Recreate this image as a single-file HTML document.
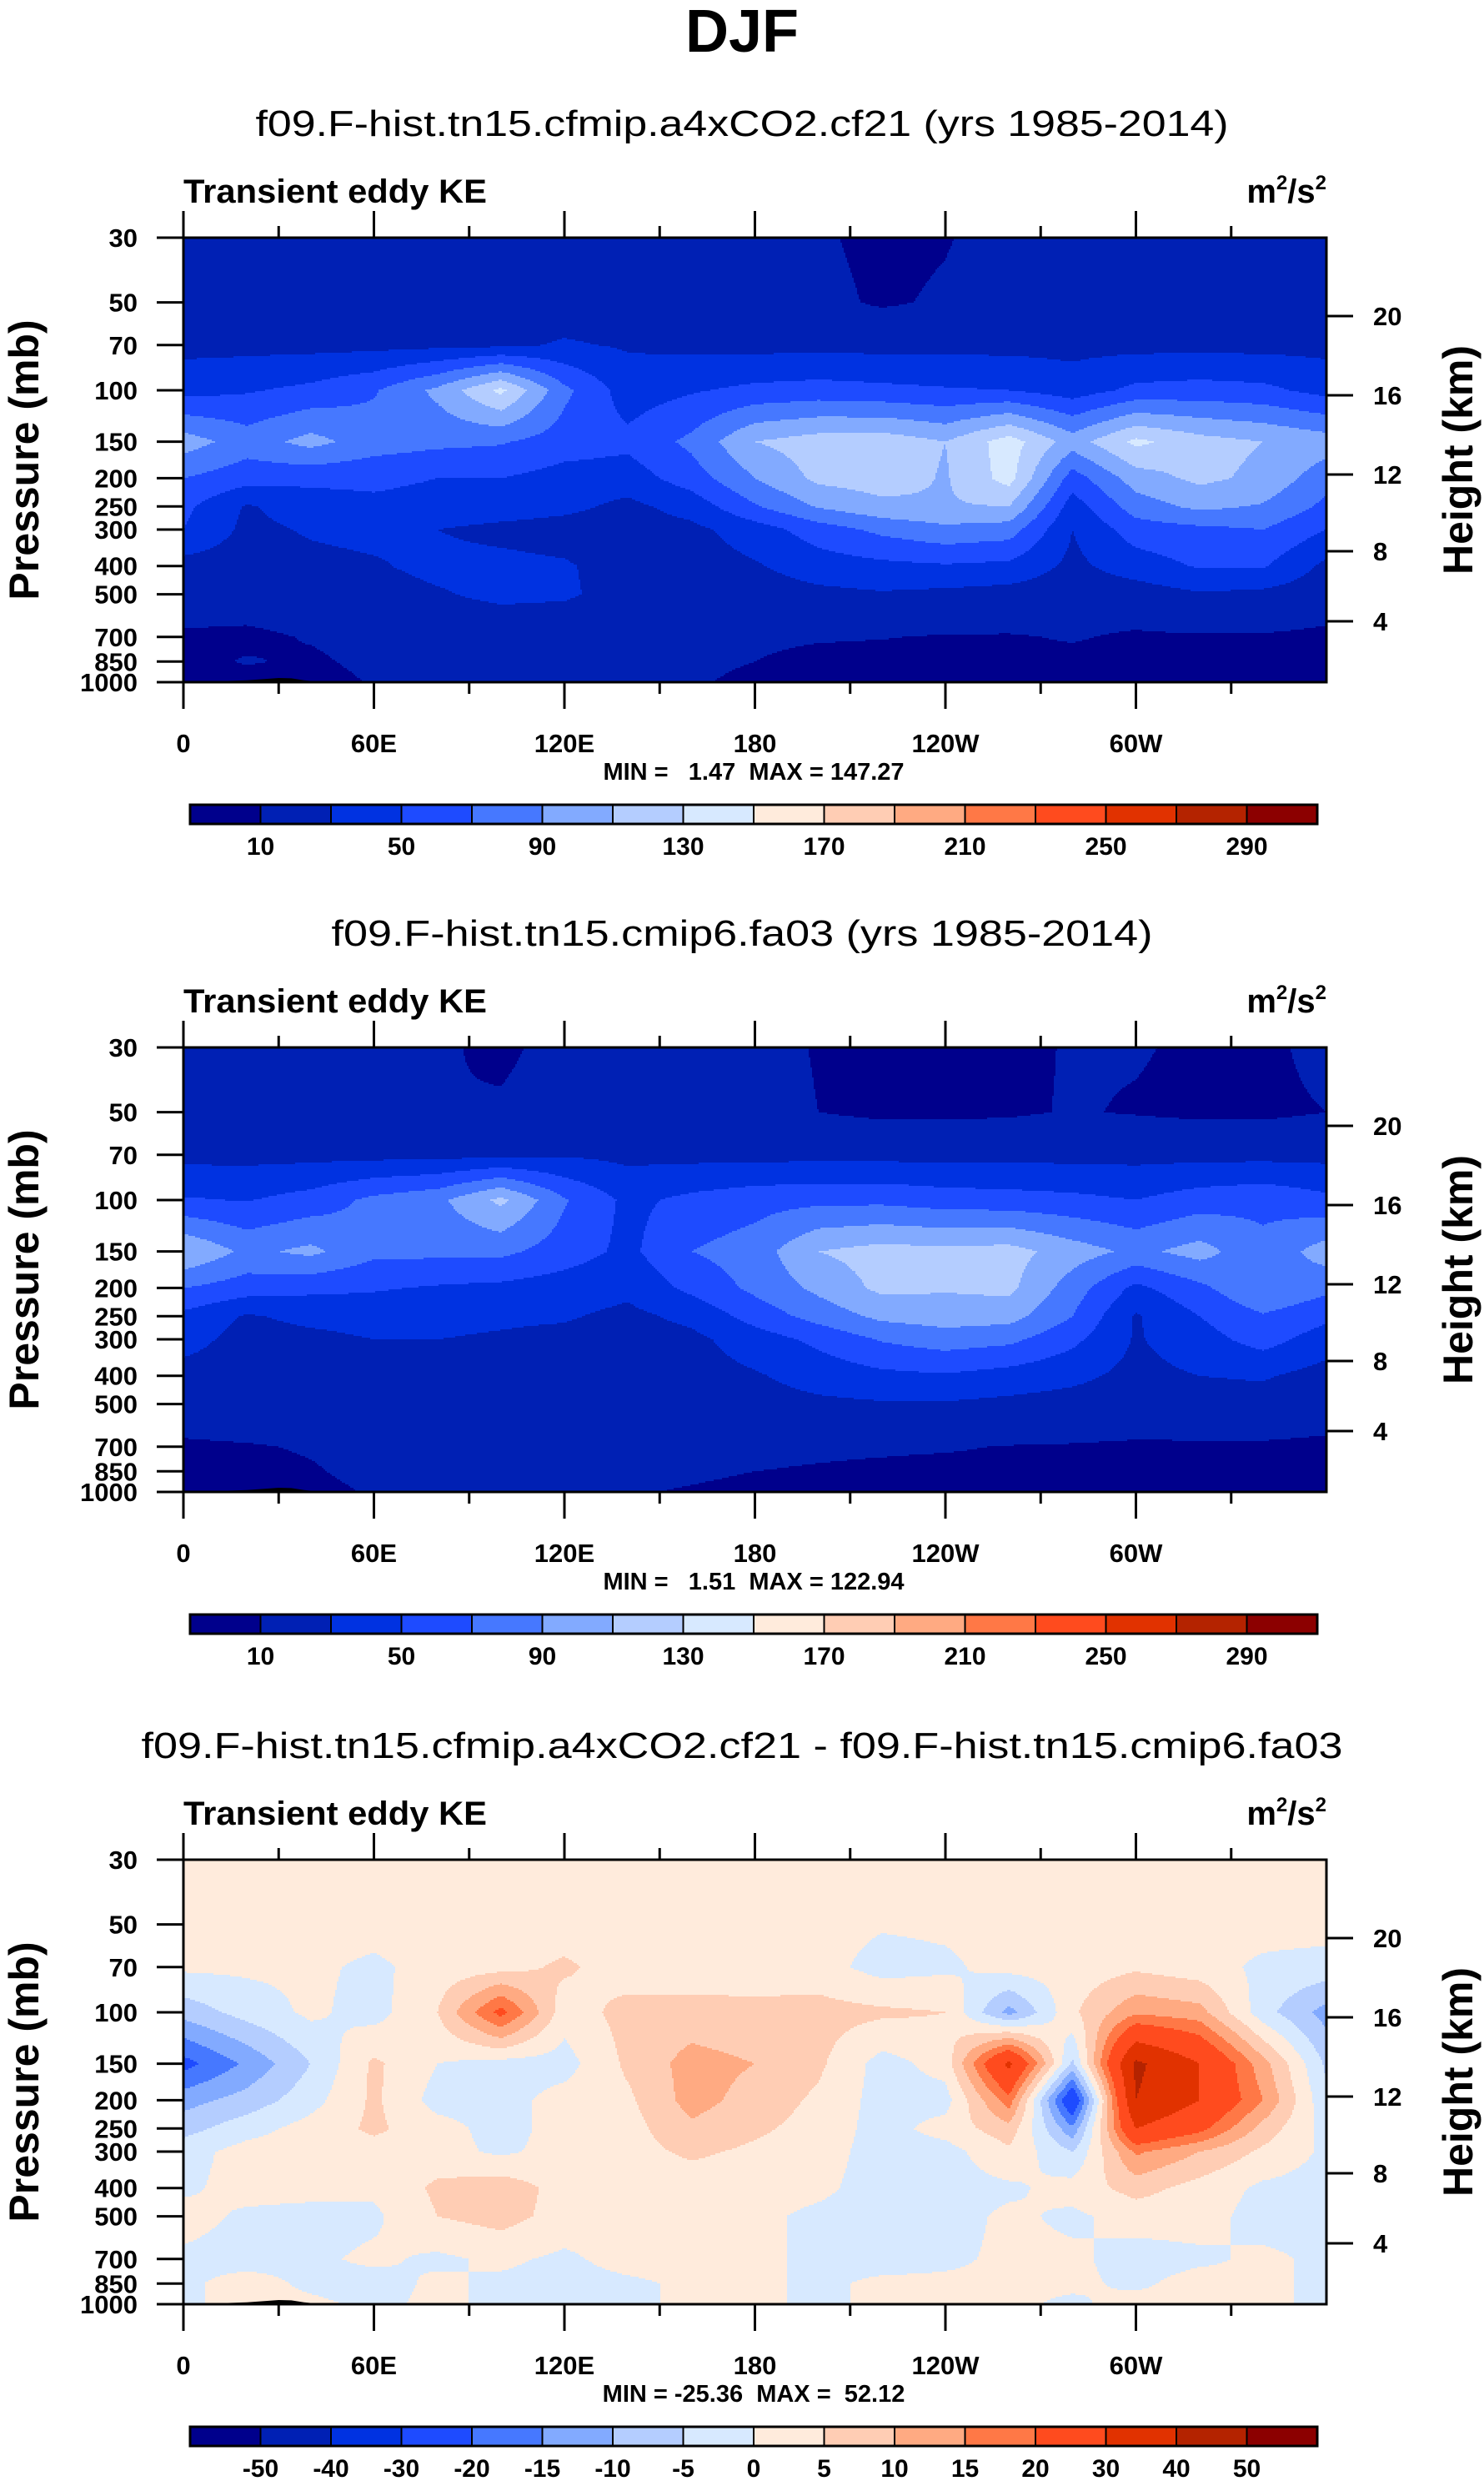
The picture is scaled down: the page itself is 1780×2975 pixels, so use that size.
<!DOCTYPE html>
<html><head><meta charset="utf-8"><title>DJF Transient eddy KE</title>
<style>
html,body{margin:0;padding:0;background:#fff;}
svg{display:block;font-family:"Liberation Sans",Arial,sans-serif;}
</style></head>
<body>
<svg id="fig" width="1780" height="2975" viewBox="0 0 1780 2975" xmlns="http://www.w3.org/2000/svg">
<rect width="1780" height="2975" fill="#fff"/>
<text x="890" y="62" text-anchor="middle" font-size="72" font-weight="bold">DJF</text>
</svg>
<script>
// ---------------- data ----------------
const lons = [0,20,40,60,80,100,120,140,160,180,200,220,240,260,280,300,320,340,360];
const pLevels = [30,50,70,100,150,200,250,300,400,500,700,850,1000];
const ke1 = [
 [18,18,18,18,18,18,18,18,18,16,12,6,9,16,18,18,18,18,18],
 [20,20,20,20,20,20,20,20,20,18,14,8,12,18,20,20,20,20,20],
 [24,24,24,24,25,26,32,28,25,24,24,24,24,24,24,24,24,24,24],
 [43,48,55,68,95,135,75,40,48,55,58,55,52,50,40,55,58,55,43],
 [100,80,97,80,75,72,60,55,75,110,120,122,110,140,100,135,118,110,100],
 [70,58,55,55,50,50,42,40,60,90,115,120,108,138,60,100,115,105,78],
 [55,28,40,45,42,40,35,25,38,68,92,105,108,110,40,80,95,88,65],
 [50,25,32,35,30,25,22,20,25,40,60,75,85,80,30,60,65,70,50],
 [22,20,25,28,35,35,32,22,20,28,40,45,48,45,25,40,52,52,25],
 [18,18,20,22,28,35,33,22,18,20,25,28,25,22,18,20,28,25,18],
 [8,7,11,14,14,14,14,14,14,12,11,10.5,9,9,11,8,8.5,8.5,7],
 [6,11,8,13,13,13,13,13,12,10,7,6,6,6,7,6,6,6,6],
 [5,5,5,11,11,11,11,11,11,8,5,5,5,5,5,5,5,5,5]
];
const ke2 = [
 [17,18,18,17,12,7,15,18,18,15,9,6,6,7,11,11,8,7,14],
 [16,11,17,17,10,12,17,19,19,16,10,7,7,8,11,9,7,7,10],
 [24,24,24,24,24,25,28,25,24,24,24,24,24,24,24,24,24,24,24],
 [52,49,58,75,85,115,72,45,55,62,65,65,60,58,55,50,60,65,55],
 [110,85,95,75,75,75,60,45,70,80,110,118,115,118,100,85,98,75,100],
 [70,60,55,52,48,45,40,35,55,75,95,115,112,115,80,45,65,90,75],
 [45,28,35,38,35,33,32,25,35,58,78,95,100,98,70,28,50,68,55],
 [38,22,25,30,30,28,25,22,25,40,55,72,80,75,55,28,42,58,40],
 [22,20,22,24,24,24,22,20,22,28,38,45,48,42,35,24,30,32,22],
 [18,20,20,20,20,20,20,20,20,22,26,28,28,25,22,20,22,22,18],
 [8,9,11,14,14,14,14,14,14,13,12,11.5,11,9.5,9,8,8,8,7],
 [6,7,9,13,13,13,13,13,12,10,9,8,7,7,6,6,6,6,6],
 [5,5,7,11,11,11,11,11,9,7,5,5,5,5,5,5,5,5,5]
];
const diff = [
 [2,2,2,2,2,2,2,2,2,2,2,2,2,2,2,2,2,2,2],
 [2,2,2,2,2,2,2,2,2,2,2,0.5,1,2,2,2,2,2,2],
 [1,1,1,-1,2,3,6,2,2,3,2,-2,-1,2,2,4,2,-1,-2],
 [-8,-3,1,-2,5,22,2,7,7,6,7,6,5,-12,4,14,12,-3,-12],
 [-22,-14,-5,6,0,-2,-2,6,12,10,6,-2,2,32,-6,42,30,12,-6],
 [-12,-8,-2,6,-2,-2,2,4,12,8,4,-2,-2,18,-28,40,30,15,-4],
 [-7,-2,2,6,2,-2,2,3,9,6,3,-2,2,8,-14,30,22,8,-2],
 [-2,2,2,3,2,-1,2,3,6,4,2,-2,-2,4,-5,16,10,4,-1],
 [-1,2,2,1,6,8,3,2,2,2,1,-2,-2,-1,2,7,3,-1,-2],
 [2,-1,-2,-1,5,7,3,2,2,1,-1,-2,-2,1,-1,2,2,-2,-2],
 [-1,-2,-1,1,-1,1,-1,2,2,1,-1,-2,-1,1,1,-2,-1,1,-1],
 [-1,2,-1,-2,1,-1,-2,-1,1,1,-1,1,1,1,1,-1,2,1,-1],
 [-1,2,1,-1,1,-1,-1,-1,1,1,-1,1,1,1,-1,2,1,1,-1]
];
const keLevels = [10,30,50,70,90,110,130,150,170,190,210,230,250,270,290];
const keLabels = ["10","50","90","130","170","210","250","290"];
const diffLevels = [-50,-40,-30,-20,-15,-10,-5,0,5,10,15,20,30,40,50];
const palette = ["#00008c","#0020b4","#0032e1","#1e4bff","#4678ff","#82aaff","#b4cdff","#d7e9ff","#ffebdc","#ffcdb4","#ffaa82","#ff7846","#ff4b1e","#e13200","#b42300","#8c0000"];
const xTickLons = [0,60,120,180,240,300];
const xTickLabels = ["0","60E","120E","180","120W","60W"];
const yTickP = [30,50,70,100,150,200,250,300,400,500,700,850,1000];
const hTicks = [20,16,12,8,4];
const hTickOffsets = [94,189,284,376,460];
const topoLon = [10,14,20,26,30,34,38,42,44];
const topoP = [1000,990,985,975,968,970,985,995,1000];
const panelTitles = ["f09.F-hist.tn15.cfmip.a4xCO2.cf21 (yrs 1985-2014)","f09.F-hist.tn15.cmip6.fa03 (yrs 1985-2014)","f09.F-hist.tn15.cfmip.a4xCO2.cf21 - f09.F-hist.tn15.cmip6.fa03"];
const titleWidths = [1167,985,1441];
const minMax = ["MIN =   1.47  MAX = 147.27","MIN =   1.51  MAX = 122.94","MIN = -25.36  MAX =  52.12"];

// ---------------- drawing ----------------
const NS="http://www.w3.org/2000/svg";
const svg=document.getElementById('fig');
const X0=220,X1=1591,PH=533,LNR=Math.log(1000/30);
function mk(tag,attrs,parent){const e=document.createElementNS(NS,tag);for(const k in attrs)e.setAttribute(k,attrs[k]);(parent||svg).appendChild(e);return e;}
function lx(l){return X0+l*(X1-X0)/360;}
function py(p,top){return top+PH*Math.log(p/30)/LNR;}
function cidx(v,levels){let i=0;while(i<levels.length&&v>=levels[i])i++;return i;}
function interp(arr,lon,lp){
  let i=0;while(i<lons.length-2&&lon>lons[i+1])i++;
  const tx=Math.min(1,Math.max(0,(lon-lons[i])/(lons[i+1]-lons[i])));
  let j=0;while(j<pLevels.length-2&&lp>Math.log(pLevels[j+1]))j++;
  const a=Math.log(pLevels[j]),b=Math.log(pLevels[j+1]);
  const ty=Math.min(1,Math.max(0,(lp-a)/(b-a)));
  const v00=arr[j][i],v01=arr[j][i+1],v10=arr[j+1][i],v11=arr[j+1][i+1];
  return (v00*(1-tx)+v01*tx)*(1-ty)+(v10*(1-tx)+v11*tx)*ty;
}
function addCell(fg,x0,x1,y,h,c){
  const r=mk('rect',{x:x0,y:y,width:x1-x0+0.6,height:h+0.6,fill:palette[c]},fg);
  
  
}
function drawPanel(k,top,arr,levels,cbLabelsShown){
  const g=mk('g',{});
  
  
  const t=mk('text',{x:890,y:top-122,'text-anchor':'middle','font-size':44,textLength:titleWidths[k],lengthAdjust:'spacingAndGlyphs'},g);
  
  
  t.textContent=panelTitles[k];
  const fg=mk('g',{},g);
  
  
  const step=2;
  for(let y=top;y<top+PH;y+=step){
    const h=Math.min(step,top+PH-y);
    const lp=Math.log(30)+((y+h/2-top)/PH)*LNR;
    let runStart=X0,cur=-1;
    for(let x=X0;x<X1;x+=step){
      const lon=(Math.min(x+step/2,X1)-X0)/(X1-X0)*360;
      const c=cidx(interp(arr,lon,lp),levels);
      if(c!==cur){
        if(cur>=0)addCell(fg,runStart,x,y,h,cur);
        runStart=x;cur=c;
      }
    }
    if(cur>=0)addCell(fg,runStart,X1,y,h,cur);
  }
  let pts=topoLon.map((l,i)=>lx(l)+','+py(topoP[i],top)).join(' ');
  const tp=mk('polygon',{points:pts,fill:'#000'},g);
  
  
  const fr=mk('rect',{x:X0,y:top,width:X1-X0,height:PH,fill:'none',stroke:'#000','stroke-width':3},g);
  
  
  for(let l=0;l<360;l+=30){
    const major=(l%60===0);const len=major?32:14;
    mk('line',{x1:lx(l),x2:lx(l),y1:top,y2:top-len,stroke:'#000','stroke-width':3},g);
    mk('line',{x1:lx(l),x2:lx(l),y1:top+PH,y2:top+PH+len,stroke:'#000','stroke-width':3},g);
  }
  xTickLons.forEach((l,i)=>{
    const tl=mk('text',{x:lx(l),y:top+PH+84,'text-anchor':'middle','font-size':31,'font-weight':'bold'},g);
    
    
    tl.textContent=xTickLabels[i];
  });
  yTickP.forEach(p=>{
    const y=py(p,top);
    mk('line',{x1:X0-32,x2:X0,y1:y,y2:y,stroke:'#000','stroke-width':3},g);
    const tl=mk('text',{x:X0-55,y:y+11,'text-anchor':'end','font-size':31,'font-weight':'bold'},g);
    
    
    tl.textContent=p;
  });
  hTicks.forEach((h,i)=>{
    const y=top+hTickOffsets[i];
    mk('line',{x1:X1,x2:X1+32,y1:y,y2:y,stroke:'#000','stroke-width':3},g);
    const tl=mk('text',{x:X1+56,y:y+11,'font-size':31,'font-weight':'bold'},g);
    
    
    tl.textContent=h;
  });
  const lt=mk('text',{x:X0,y:top-42,'font-size':40,'font-weight':'bold',textLength:364,lengthAdjust:'spacingAndGlyphs'},g);
  
  
  lt.textContent='Transient eddy KE';
  const un=mk('text',{x:X1,y:top-42,'text-anchor':'end','font-size':40,'font-weight':'bold'},g);
  
  
  un.innerHTML='m<tspan dy="-16" font-size="24">2</tspan><tspan dy="16">/s</tspan><tspan dy="-16" font-size="24">2</tspan>';
  const yl=mk('text',{x:0,y:0,'text-anchor':'middle','font-size':50,'font-weight':'bold',transform:'translate(46,'+(top+PH/2)+') rotate(-90)'},g);
  
  
  yl.textContent='Pressure (mb)';
  const hl=mk('text',{x:0,y:0,'text-anchor':'middle','font-size':50,'font-weight':'bold',transform:'translate(1766,'+(top+PH/2)+') rotate(-90)'},g);
  
  
  hl.textContent='Height (km)';
  const mm=mk('text',{x:904,y:top+PH+117,'text-anchor':'middle','font-size':29,'font-weight':'bold',style:'white-space:pre'},g);
  
  
  mm.textContent=minMax[k];
  const cb=mk('g',{},g);
  
  
  const cbTop=top+PH+147,cbX0=228,cbX1=1580,bw=(cbX1-cbX0)/16;
  palette.forEach((c,i)=>{
    const r=mk('rect',{x:cbX0+i*bw,y:cbTop,width:bw,height:23,fill:c,stroke:'#000','stroke-width':2},cb);
    
    
  });
  mk('rect',{x:cbX0,y:cbTop,width:cbX1-cbX0,height:23,fill:'none',stroke:'#000','stroke-width':3},cb);
  levels.forEach((lv,i)=>{
    const s=String(lv);
    if(cbLabelsShown.indexOf(s)<0)return;
    const tl=mk('text',{x:cbX0+(i+1)*bw,y:cbTop+60,'text-anchor':'middle','font-size':30,'font-weight':'bold'},cb);
    
    
    tl.textContent=s;
  });
}
drawPanel(0,285,ke1,keLevels,keLabels);
drawPanel(1,1256,ke2,keLevels,keLabels);
drawPanel(2,2230,diff,diffLevels,diffLevels.map(String));
</script>
</body></html>
